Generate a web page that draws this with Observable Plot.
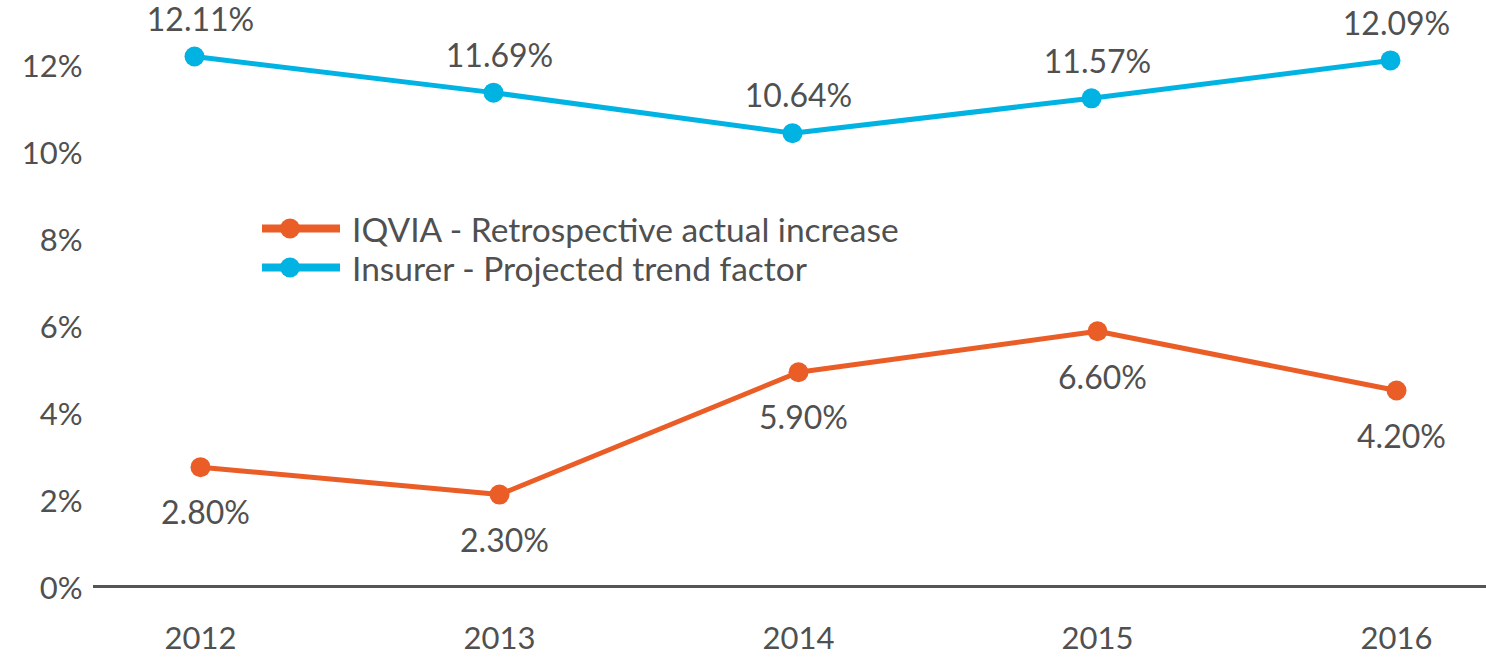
<!DOCTYPE html>
<html>
<head>
<meta charset="utf-8">
<script src="https://cdn.jsdelivr.net/npm/d3@7"></script>
<script src="https://cdn.jsdelivr.net/npm/@observablehq/plot@0.6"></script>
<style>
  html, body { margin: 0; padding: 0; background: #ffffff; }
  #wrap { position: relative; width: 1486px; height: 657px; overflow: hidden; }
  #legend { position: absolute; left: 262px; top: 209px; font-family: Lato, "Noto Sans", sans-serif; font-size: 33.5px; color: #505050; }
  #legend .row { display: flex; align-items: center; height: 39px; }
  #legend svg { display: block; margin-right: 12px; }
</style>
</head>
<body>
<div id="wrap"><div id="legend"></div></div>
<script>
const years = ["2012", "2013", "2014", "2015", "2016"];
const iqviaValues = [2.74, 2.11, 4.92, 5.86, 4.50];
const iqviaLabels = ["2.80%", "2.30%", "5.90%", "6.60%", "4.20%"];
const insurerValues = [12.17, 11.34, 10.41, 11.21, 12.08];
const insurerLabels = ["12.11%", "11.69%", "10.64%", "11.57%", "12.09%"];
const yTicks = [0, 2, 4, 6, 8, 10, 12];
const seriesNames = ["IQVIA - Retrospective actual increase", "Insurer - Projected trend factor"];
const seriesColors = ["#EA5D27", "#00B3E3"];

const iqvia = years.map((year, i) => ({year, value: iqviaValues[i], label: iqviaLabels[i]}));
const insurer = years.map((year, i) => ({year, value: insurerValues[i], label: insurerLabels[i]}));

const chart = Plot.plot({
  width: 1486,
  height: 657,
  marginLeft: 93,
  marginRight: 0,
  marginTop: 0,
  marginBottom: 71,
  style: {fontFamily: "Lato, 'Noto Sans', sans-serif", fontSize: "31px", color: "#505050", background: "white", overflow: "visible"},
  x: {type: "point", domain: years, range: [200, 1396], padding: 0, label: null},
  y: {domain: [0, 12], range: [586, 63.4], label: null},
  marks: [
    Plot.axisY({ticks: yTicks, tickFormat: d => d + "%", tickSize: 0, tickPadding: 11, dy: 3, fill: "#505050", fontSize: 31, label: null}),
    Plot.axisX({tickSize: 0, tickPadding: 40, fill: "#505050", fontSize: 31, label: null}),
    Plot.ruleY([0], {stroke: "#555555", strokeWidth: 3}),
    Plot.line(insurer, {x: "year", y: "value", stroke: seriesColors[1], strokeWidth: 5, dx: -6}),
    Plot.dot(insurer, {x: "year", y: "value", fill: seriesColors[1], r: 10, dx: -6}),
    Plot.line(iqvia, {x: "year", y: "value", stroke: seriesColors[0], strokeWidth: 5}),
    Plot.dot(iqvia, {x: "year", y: "value", fill: seriesColors[0], r: 10}),
    Plot.text(insurer, {x: "year", y: "value", text: "label", dy: -36, fill: "#505050", fontSize: 32}),
    Plot.text(iqvia, {x: "year", y: "value", text: "label", dy: 47, dx: 5, fill: "#505050", fontSize: 32})
  ]
});
const wrap = document.getElementById("wrap");
wrap.insertBefore(chart, wrap.firstChild);

const legend = document.getElementById("legend");
seriesNames.forEach((name, i) => {
  const row = document.createElement("div");
  row.className = "row";
  row.innerHTML = `<svg width="78" height="39"><line x1="0" x2="78" y1="19.5" y2="19.5" stroke="${seriesColors[i]}" stroke-width="8"/><circle cx="28" cy="19.5" r="10" fill="${seriesColors[i]}"/></svg><span>${name}</span>`;
  legend.appendChild(row);
});
</script>
</body>
</html>
